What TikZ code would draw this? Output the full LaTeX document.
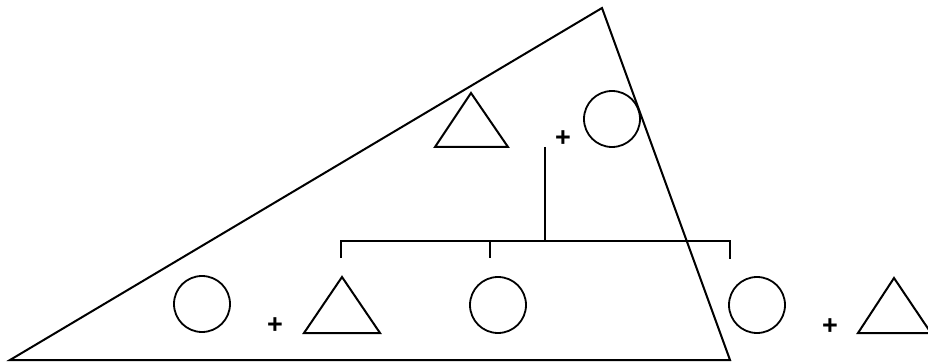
\documentclass[tikz,border=0pt]{standalone}
\usepackage{fontspec}
\setmainfont{Liberation Sans}
\begin{document}
\begin{tikzpicture}[x=1pt,y=-1pt,
  ln/.style={line width=2pt,line join=miter},
  ring/.style={circle,draw,line width=1.8pt,minimum size=56pt,inner sep=0pt},
  plus/.style={font=\fontsize{27}{27}\selectfont\bfseries,inner sep=0pt}]
\useasboundingbox (0,0) rectangle (928,363);
% big triangle
\coordinate (A) at (602,8);
\coordinate (B) at (10,360);
\coordinate (C) at (730,360);
\draw[ln] (A) -- (B) -- (C) -- cycle;
% top group
\draw[ln] (435,147) -- (471,93) -- (508,147) -- cycle;
\node[plus] (p0) at (563,139) {+};
\node[ring] (c0) at (612,119) {};
% tree
\coordinate (t0) at (545,147);
\coordinate (bar) at (545,241);
\coordinate (l1) at (341,241);
\coordinate (l2) at (490,241);
\coordinate (l3) at (730,241);
\draw[ln] (t0) -- (bar);
\draw[ln] (341,258) -- (l1) -- (l3) -- (730,259);
\draw[ln] (l2) -- (490,258);
% bottom row
\node[ring] (c1) at (202,304) {};
\node[plus] (p1) at (275,326) {+};
\draw[ln] (304,333) -- (342,277) -- (380,333) -- cycle;
\node[ring] (c2) at (498,305) {};
\node[ring] (c3) at (757,305) {};
\node[plus] (p3) at (830,327) {+};
\draw[ln] (858,333) -- (894,278) -- (931,333) -- cycle;
\end{tikzpicture}
\end{document}
